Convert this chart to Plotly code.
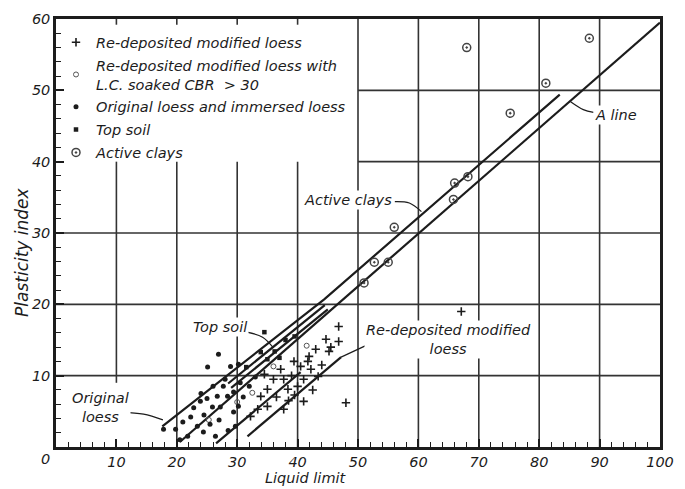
import plotly.graph_objects as go

# ---------------- data ----------------
# Re-deposited modified loess (+)
redep_ll = [46.8, 56.0, 67.1, 48.0, 44.7, 46.8, 43.0, 45.2, 41.9, 42.2, 43.4, 41.0, 40.0, 41.0,
            37.7, 38.4, 37.7, 37.2, 40.5, 39.4, 41.7, 35.0, 33.9, 33.4, 35.0, 36.5, 39.0, 44.0,
            38.5, 36.0, 42.5, 32.2, 34.5, 39.5, 45.5]
redep_pi = [16.9, 14.0, 19.0, 6.2, 15.1, 14.8, 13.7, 13.4, 12.7, 10.9, 9.9, 9.5, 8.5, 6.4,
            5.3, 8.1, 9.5, 10.9, 11.3, 12.0, 12.0, 5.7, 7.1, 5.3, 8.1, 7.0, 10.0, 11.5,
            6.5, 9.5, 8.0, 4.3, 10.2, 7.3, 14.0]
# Re-deposited modified loess with L.C. soaked CBR > 30 (small open circles)
cbr_ll = [25.3, 36.0, 32.5, 30.0, 41.5]
cbr_pi = [3.8, 11.3, 7.6, 6.3, 14.2]
# Original loess and immersed loess (dots)
orig_ll = [17.8, 19.8, 20.5, 21.8, 23.4, 24.4, 26.4, 22.3, 23.9, 25.9, 27.2, 25.1, 26.9, 28.9,
           30.2, 29.4, 29.7, 28.4, 29.4, 30.2, 26.7, 27.7, 24.5, 25.5, 27.0, 28.5, 21.0, 26.0,
           31.0, 30.5, 32.0, 28.0, 24.0, 33.0, 22.8, 25.0]
orig_pi = [2.5, 2.5, 1.0, 1.5, 2.9, 2.1, 1.5, 4.2, 6.4, 5.6, 5.6, 11.2, 13.0, 11.3,
           11.6, 4.9, 2.9, 7.1, 7.7, 5.7, 7.1, 8.5, 4.5, 3.2, 3.8, 2.3, 3.5, 8.5,
           7.0, 9.0, 8.5, 9.5, 7.5, 9.8, 5.5, 6.8]
# Top soil
top_ll = [33.9, 35.0, 36.2, 38.0, 31.5, 34.5, 37.0, 39.5]
top_pi = [13.3, 12.3, 13.4, 15.0, 11.2, 16.1, 12.5, 15.5]
# Active clays
act_ll = [68.0, 88.3, 81.1, 75.2, 66.0, 68.2, 65.8, 56.0, 52.7, 55.0, 51.0]
act_pi = [56.0, 57.3, 51.0, 46.8, 37.0, 37.9, 34.7, 30.8, 25.9, 25.9, 23.0]

# boundary lines (liquid limit, plasticity index)
aline_ll, aline_pi = [20.5, 100], [0.7, 59.5]
upper_ll, upper_pi = [17.6, 44.4, 83.4], [2.9, 20.7, 49.4]
lowl_ll, lowl_pi = [26.5, 40.5], [0.5, 10.5]
redep_line_ll, redep_line_pi = [31.7, 47.2], [1.5, 12.6]
top1_ll, top1_pi = [28.5, 44.5], [8.9, 19.9]
top2_ll, top2_pi = [29.0, 45.0], [8.3, 19.3]

# label leader lines
orig_lead_ll, orig_lead_pi = [10.9, 14.5, 17.7], [4.9, 4.6, 3.8]
top_lead_ll, top_lead_pi = [31.6, 34.2, 36.0], [16.1, 15.4, 13.9]
redep_lead_ll, redep_lead_pi = [47.2, 54.3], [12.6, 15.4]
act_lead_ll, act_lead_pi = [56.1, 58.5, 60.5], [34.4, 34.2, 33.0]
aline_lead_ll, aline_lead_pi = [85.2, 87.3, 89.0], [48.4, 47.3, 46.9]

x_ticks = [10, 20, 30, 40, 50, 60, 70, 80, 90, 100]
y_ticks = [10, 20, 30, 40, 50, 60]

INK = "#1c1c1c"
FONT = "DejaVu Sans"
FS = 14.5

fig = go.Figure()

def add_line(xs, ys, w=2.0):
    fig.add_trace(go.Scatter(x=xs, y=ys, mode="lines", line=dict(color=INK, width=w),
                             showlegend=False, hoverinfo="skip"))

for xs, ys in [(aline_ll, aline_pi), (upper_ll, upper_pi), (lowl_ll, lowl_pi),
               (redep_line_ll, redep_line_pi), (top1_ll, top1_pi), (top2_ll, top2_pi)]:
    add_line(xs, ys, 2.2)
for xs, ys in [(orig_lead_ll, orig_lead_pi), (top_lead_ll, top_lead_pi),
               (redep_lead_ll, redep_lead_pi), (act_lead_ll, act_lead_pi),
               (aline_lead_ll, aline_lead_pi)]:
    fig.add_trace(go.Scatter(x=xs, y=ys, mode="lines", line=dict(color=INK, width=1.2, shape="spline"),
                             showlegend=False, hoverinfo="skip"))

fig.add_trace(go.Scatter(x=redep_ll, y=redep_pi, mode="markers", name="Re-deposited modified loess",
                         legendgroup="a",
                         marker=dict(symbol="cross-thin", size=6, line=dict(color=INK, width=1.6))))
fig.add_trace(go.Scatter(x=cbr_ll, y=cbr_pi, mode="markers",
                         name="Re-deposited modified loess with<br>L.C. soaked CBR\u00a0\u00a0> 30",
                         legendgroup="b",
                         marker=dict(symbol="circle-open", size=5, color="#555", line=dict(width=1))))
fig.add_trace(go.Scatter(x=orig_ll, y=orig_pi, mode="markers", name="Original loess and immersed loess",
                         legendgroup="c",
                         marker=dict(symbol="circle", size=5, color=INK)))
fig.add_trace(go.Scatter(x=top_ll, y=top_pi, mode="markers", name="Top soil",
                         legendgroup="d",
                         marker=dict(symbol="square", size=4.5, color=INK)))
fig.add_trace(go.Scatter(x=act_ll, y=act_pi, mode="markers", name="Active clays",
                         legendgroup="e",
                         marker=dict(symbol="circle-open-dot", size=8, color="#444", line=dict(width=1.5))))

# grid lines (with the blank legend area in the upper left)
shapes = []
GRID = dict(color="#333", width=1.6)
for v in x_ticks[:-1]:
    if v < 50:
        y0 = 9 if v == 10 else 0
        shapes.append(dict(type="line", x0=v, x1=v, y0=y0, y1=40, line=GRID, layer="below"))
        shapes.append(dict(type="line", x0=v, x1=v, y0=59.2, y1=60, line=GRID, layer="below"))
    else:
        shapes.append(dict(type="line", x0=v, x1=v, y0=0, y1=60, line=GRID, layer="below"))
for v in y_ticks[:-1]:
    x0 = 50 if v >= 40 else 0
    shapes.append(dict(type="line", x0=x0, x1=100, y0=v, y1=v, line=GRID, layer="below"))
fig.update_layout(shapes=shapes)

def label(text, x, y, align="center"):
    fig.add_annotation(x=x, y=y, text=text, showarrow=False, align=align, bgcolor="white",
                       xanchor="center", yanchor="middle", borderpad=1,
                       font=dict(family=FONT, size=FS, color=INK, style="italic"))

label("Original<br>loess", 7.3, 5.6)
label("Top soil", 27.2, 16.8)
label("Re-deposited modified<br>loess", 64.9, 15.1)
label("Active clays", 48.3, 34.6)
label("A line", 92.7, 46.6)

# corner zero and axis titles
fig.add_annotation(xref="paper", yref="paper", x=-0.018, y=-0.028, text="0", showarrow=False,
                   xanchor="center", yanchor="middle",
                   font=dict(family=FONT, size=FS, color=INK, style="italic"))
fig.add_annotation(xref="paper", yref="paper", x=0.414, y=-0.073, text="Liquid limit", showarrow=False,
                   xanchor="center", yanchor="middle",
                   font=dict(family=FONT, size=FS, color=INK, style="italic"))
fig.add_annotation(xref="paper", yref="paper", x=-0.056, y=0.456, text="Plasticity index", showarrow=False,
                   xanchor="center", yanchor="middle", textangle=-90,
                   font=dict(family=FONT, size=17, color=INK, style="italic"))

axis_common = dict(showgrid=False, zeroline=False, showline=True, linecolor=INK, linewidth=2.5,
                   mirror=True, ticks="inside", ticklen=8, tickwidth=1.5, tickcolor=INK,
                   automargin=False,
                   tickfont=dict(family=FONT, size=FS, color=INK, style="italic"),
                   minor=dict(dtick=2, ticks="inside", ticklen=5, tickwidth=1.3, tickcolor=INK))

fig.update_xaxes(range=[0, 100], tickvals=x_ticks, **axis_common)
fig.update_yaxes(range=[0, 60], tickvals=y_ticks, **axis_common)

# the page body adds an 8 px offset, so the margins are shifted to compensate
fig.update_layout(
    width=685, height=489,
    margin=dict(l=48, r=33, t=11, b=50),
    paper_bgcolor="white", plot_bgcolor="white",
    font=dict(family=FONT, size=FS, color=INK, style="italic"),
    legend=dict(x=0.0, y=0.983, xanchor="left", yanchor="top", bgcolor="rgba(0,0,0,0)",
                font=dict(family=FONT, size=FS, color=INK, style="italic"),
                tracegroupgap=1, itemwidth=30),
)

fig.write_html("out.html")
